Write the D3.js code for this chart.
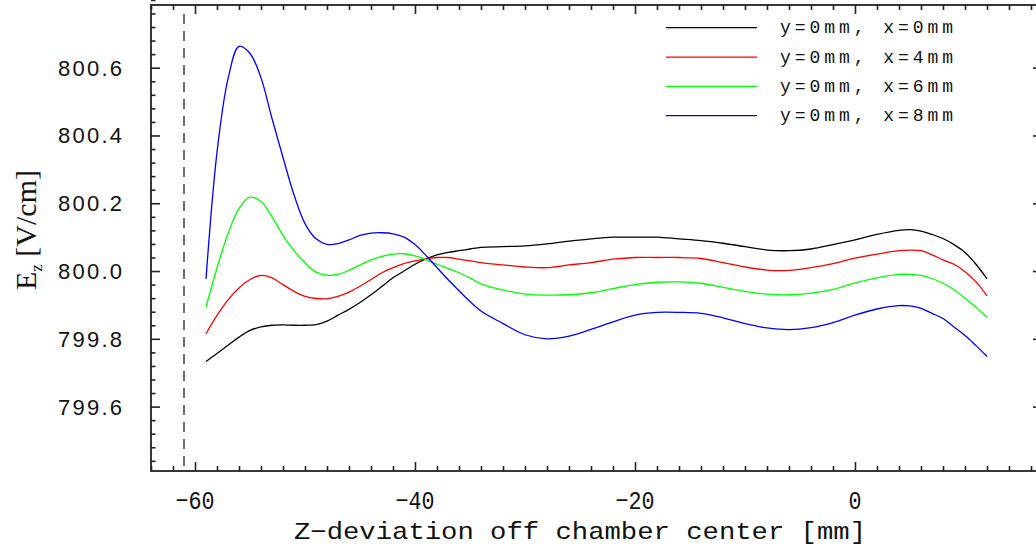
<!DOCTYPE html>
<html><head><meta charset="utf-8">
<script src="https://cdn.jsdelivr.net/npm/d3@7"></script>
<style>body{margin:0;background:#fff}</style>
</head><body><svg id="c" width="1036" height="547"></svg>
<script>
// ---------- data ----------
const zPos = [-59,-58,-57,-56,-55,-54,-53,-52,-51,-50,-49,-48,-47,-46,-45,-44,-43,-42,-41,-40,-39,-38,-37,-36,-35,-34,
  -32,-30,-28,-26,-24,-22,-20,-18,-16,-14,-12,-10,-8,-6,-4,-2,0,2,4,5,6,7,8,9,10,11,12];
const ezX0 = [799.733,799.757,799.781,799.805,799.825,799.835,799.840,799.841,799.840,799.840,799.842,799.852,799.870,799.887,799.907,799.93,799.955,799.98,800.00,800.02,800.036,800.048,800.055,800.06,800.065,800.07,
  800.072,800.074,800.08,800.088,800.095,800.10,800.10,800.10,800.095,800.09,800.082,800.072,800.062,800.06,800.065,800.078,
  800.092,800.108,800.12,800.122,800.118,800.108,800.096,800.078,800.055,800.02,799.977];
const ezX4 = [799.815,799.869,799.915,799.95,799.975,799.987,799.98,799.96,799.94,799.925,799.919,799.918,799.925,799.938,799.955,799.975,799.995,800.01,800.022,800.03,800.036,800.04,800.04,800.035,800.03,800.025,
  800.018,800.012,800.01,800.018,800.025,800.035,800.04,800.04,800.04,800.037,800.025,800.012,800.003,800.002,800.01,800.022,
  800.038,800.05,800.06,800.062,800.06,800.048,800.033,800.02,799.998,799.968,799.927];
const ezX6 = [799.894,800.009,800.11,800.185,800.218,800.205,800.16,800.105,800.06,800.025,799.997,799.988,799.99,800.002,800.018,800.032,800.043,800.05,800.051,800.045,800.034,800.02,800.008,799.995,799.98,799.962,
  799.944,799.932,799.929,799.93,799.936,799.948,799.96,799.967,799.968,799.964,799.952,799.94,799.932,799.93,799.935,799.946,
  799.965,799.98,799.99,799.99,799.987,799.978,799.964,799.945,799.92,799.893,799.863];
const ezX8 = [799.977,800.35,800.567,800.663,800.642,800.57,800.45,800.335,800.225,800.14,800.095,800.079,800.081,800.092,800.105,800.112,800.113,800.11,800.1,800.078,800.046,800.01,799.975,799.942,799.91,799.882,
  799.845,799.812,799.80,799.808,799.828,799.85,799.87,799.878,799.878,799.875,799.862,799.845,799.832,799.827,799.833,799.848,
  799.87,799.888,799.898,799.897,799.89,799.875,799.86,799.835,799.81,799.78,799.748];
const seriesNames = ["y=0mm,  x=0mm","y=0mm,  x=4mm","y=0mm,  x=6mm","y=0mm,  x=8mm"];
const seriesColors = ["#000000","#ff0000","#00ff00","#0000ff"];
const xMajorTicks = [-60,-40,-20,0];
const xTickLabels = ["\u221260","\u221240","\u221220","0"];
const yMajorTicks = [799.6,799.8,800.0,800.2,800.4,800.6];
const yTickLabels = ["799.6","799.8","800.0","800.2","800.4","800.6"];
const xDomain = [-64,17];
const yDomain = [799.41,800.785];
const markerZ = -61;
const xTitle = "Z\u2212deviation off chamber center [mm]";

// ---------- layout ----------
const svg = d3.select("#c");
const L = 151, T = 5, R = 1042, B = 471;
const x = d3.scaleLinear().domain(xDomain).range([L, R]);
const y = d3.scaleLinear().domain(yDomain).range([B, T]);
const axisColor = "#222";

svg.append("rect").attr("width",1036).attr("height",547).attr("fill","#fff");

// dashed marker
svg.append("line").attr("x1",x(markerZ)).attr("x2",x(markerZ)).attr("y1",y(yDomain[1])+9).attr("y2",B)
  .attr("stroke","#333").attr("stroke-width",1.4).attr("stroke-dasharray","10,7");

// curves
const series = [ezX0, ezX4, ezX6, ezX8];
const line = d3.line().x((d,i)=>x(zPos[i])).y(d=>y(d)).curve(d3.curveCatmullRom.alpha(0.5));
series.forEach((s,k)=>{
  svg.append("path").datum(s).attr("d",line).attr("fill","none")
    .attr("stroke",seriesColors[k]).attr("stroke-width",1.3);
});

// axes
const xMinor = d3.range(-64, 17, 2);
const yMinor = d3.range(0, 35).map(i => +(799.44 + i*0.04).toFixed(2));
const isXMaj = v => xMajorTicks.includes(v);
const isYMaj = v => yMajorTicks.some(t => Math.abs(t-v) < 1e-6);

function drawAxis(g, axis){ g.call(axis); g.select(".domain").remove(); g.selectAll("line").attr("stroke",axisColor).attr("stroke-width",1.6); g.selectAll("text").remove(); }

svg.append("g").attr("transform",`translate(0,${B})`).call(g=>drawAxis(g,d3.axisBottom(x).tickValues(xMinor).tickSizeInner(-5).tickSizeOuter(0)))
  .selectAll(".tick line").attr("y2", d => isXMaj(d) ? -9 : -5);
svg.append("g").attr("transform",`translate(0,${T})`).call(g=>drawAxis(g,d3.axisTop(x).tickValues(xMinor).tickSizeInner(-5).tickSizeOuter(0)))
  .selectAll(".tick line").attr("y2", d => isXMaj(d) ? 9 : 5);
svg.append("g").attr("transform",`translate(${L},0)`).call(g=>drawAxis(g,d3.axisLeft(y).tickValues(yMinor).tickSizeInner(-4.5).tickSizeOuter(0)))
  .selectAll(".tick line").attr("x2", d => isYMaj(d) ? 9 : 4.5);
svg.append("g").attr("transform",`translate(${R},0)`).call(g=>drawAxis(g,d3.axisRight(y).tickValues(yMinor).tickSizeInner(-4.5).tickSizeOuter(0)))
  .selectAll(".tick line").attr("x2", d => isYMaj(d) ? -9 : -4.5);

// frame
svg.append("rect").attr("x",L).attr("y",T).attr("width",R-L).attr("height",B-T)
  .attr("fill","none").attr("stroke",axisColor).attr("stroke-width",1.8);

// y tick labels
svg.selectAll(".ylab").data(yMajorTicks).enter().append("text")
  .attr("x", L-29).attr("y", d=>y(d)+8)
  .attr("text-anchor","end").attr("font-family","Liberation Sans, Arial, sans-serif").attr("font-size",22)
  .attr("textLength",64).attr("lengthAdjust","spacing").attr("fill","#111")
  .text((d,i)=>yTickLabels[i]);

// x tick labels
svg.selectAll(".xlab").data(xMajorTicks).enter().append("text")
  .attr("x", d=>x(d)).attr("y", 509)
  .attr("text-anchor","middle").attr("font-family","Liberation Mono, monospace").attr("font-size",26)
  .attr("textLength",(d,i)=>xTickLabels[i].length*13).attr("lengthAdjust","spacingAndGlyphs").attr("fill","#111")
  .text((d,i)=>xTickLabels[i]);

// x title
svg.append("text").attr("x",580).attr("y",539).attr("text-anchor","middle")
  .attr("font-family","Liberation Mono, monospace").attr("font-size",24)
  .attr("textLength",572).attr("lengthAdjust","spacingAndGlyphs").attr("fill","#111").text(xTitle);

// y title
const yt = svg.append("text").attr("transform","translate(36,230) rotate(-90)").attr("text-anchor","middle")
  .attr("font-family","Liberation Serif, Times New Roman, serif").attr("font-size",30).attr("fill","#111");
yt.append("tspan").text("E");
yt.append("tspan").attr("font-size",17).attr("dy",6).text("z");
yt.append("tspan").attr("dy",-6).text(" [V/cm]");

// legend
const legY0 = 27.7, legDy = 29.33;
seriesNames.forEach((n,k)=>{
  const yy = legY0 + k*legDy;
  svg.append("line").attr("x1",666).attr("x2",757).attr("y1",yy).attr("y2",yy)
    .attr("stroke",seriesColors[k]).attr("stroke-width",1.3);
  svg.append("text").attr("x",780).attr("y",yy+5.6).attr("font-family","Liberation Mono, monospace")
    .attr("font-size",18).attr("textLength",173).attr("lengthAdjust","spacing").attr("fill","#111").text(n);
});
</script>
</body></html>
